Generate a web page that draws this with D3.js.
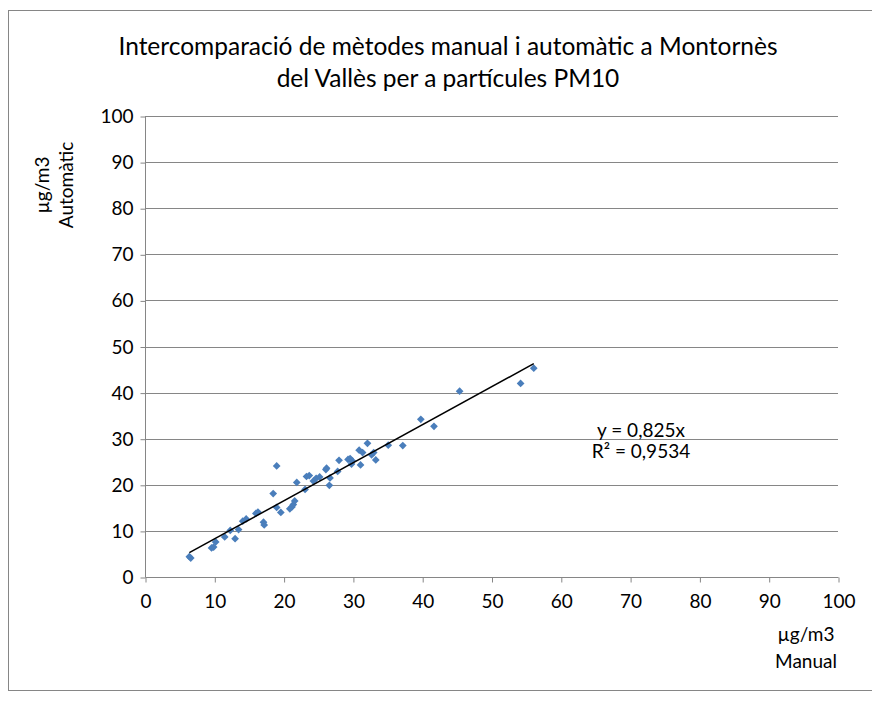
<!DOCTYPE html>
<html>
<head>
<meta charset="utf-8">
<script src="https://cdn.jsdelivr.net/npm/d3@7"></script>
<style>
  html, body { margin: 0; padding: 0; background: #fff; }
  svg { display: block; font-family: Lato, "Open Sans", sans-serif; }
</style>
</head>
<body>
<svg id="chart" width="872" height="704"></svg>
<script>
// Manual (gravimetric) vs automatic PM10 readings, µg/m3
const manual = [6.4, 6.6, 9.6, 9.9, 10.2, 11.5, 12.3, 13.0, 13.5, 14.1, 14.6, 16.0, 16.3,
  17.1, 17.2, 18.5, 19.0, 19.0, 19.6, 20.9, 21.2, 21.4, 21.6, 21.9, 23.1, 23.3, 23.7,
  24.3, 24.7, 25.2, 26.1, 26.2, 26.6, 26.7, 27.8, 28.0, 29.3, 29.6, 29.8, 29.9, 30.9,
  31.1, 31.4, 32.1, 32.7, 33.0, 33.3, 35.1, 37.2, 39.8, 41.7, 45.4, 54.2, 56.1];
const automatic = [4.4, 4.1, 6.3, 6.5, 7.6, 8.7, 10.1, 8.3, 10.3, 12.1, 12.6, 13.8, 14.1,
  11.9, 11.3, 18.1, 24.1, 15.1, 14.0, 14.8, 15.2, 15.7, 16.5, 20.5, 19.0, 21.8, 22.0,
  20.8, 21.4, 21.7, 23.3, 23.6, 19.9, 21.5, 22.9, 25.3, 25.5, 25.7, 24.5, 25.2, 27.5,
  24.3, 27.0, 29.0, 26.5, 27.0, 25.4, 28.6, 28.5, 34.2, 32.7, 40.3, 42.0, 45.3];

const xTicks = [0, 10, 20, 30, 40, 50, 60, 70, 80, 90, 100];
const yTicks = [0, 10, 20, 30, 40, 50, 60, 70, 80, 90, 100];

const titleLines = ["Intercomparació de mètodes manual i automàtic a Montornès",
                    "del Vallès per a partícules PM10"];
const yTitleLines = ["µg/m3", "Automàtic"];
const xTitleLines = ["µg/m3", "Manual"];

const slope = 0.825;
const rSquared = "0,9534";

const svg = d3.select("#chart");
const grid = "#868686";
const textColor = "#000";
const fontFamily = "Lato, 'Open Sans', sans-serif";
const labelSize = 19;
const plot = { left: 145, right: 838, top: 116, bottom: 577 };

const x = d3.scaleLinear().domain([0, 100]).range([plot.left, plot.right]);
const y = d3.scaleLinear().domain([0, 100]).range([plot.bottom, plot.top]);

// chart frame
svg.append("rect")
  .attr("x", 8.5).attr("y", 10.5)
  .attr("width", 872).attr("height", 680)
  .attr("fill", "#fff").attr("stroke", grid).attr("stroke-width", 1);

// title
svg.append("g").selectAll("text").data(titleLines).join("text")
  .attr("x", 448).attr("y", (d, i) => 55 + i * 32)
  .attr("text-anchor", "middle")
  .attr("font-size", 24.5)
  .attr("fill", textColor)
  .text(d => d);

// horizontal gridlines
svg.append("g").selectAll("line").data(yTicks.filter(d => d > 0)).join("line")
  .attr("x1", plot.left).attr("x2", plot.right)
  .attr("y1", d => Math.round(y(d)) + 0.5).attr("y2", d => Math.round(y(d)) + 0.5)
  .attr("stroke", grid).attr("stroke-width", 1);

// y axis
const yAxis = svg.append("g")
  .attr("transform", `translate(${plot.left + 0.5},0.5)`)
  .call(d3.axisLeft(y).tickValues(yTicks).tickSize(5).tickPadding(7).tickFormat(d3.format("d")));
yAxis.select(".domain").attr("stroke", grid).attr("d", `M0,${plot.top}V${plot.bottom}`);
yAxis.selectAll(".tick line").attr("stroke", grid);
yAxis.selectAll(".tick text").attr("font-size", labelSize).attr("fill", textColor)
  .attr("font-family", fontFamily);

// x axis
const xAxis = svg.append("g")
  .attr("transform", `translate(0.5,${plot.bottom + 0.5})`)
  .call(d3.axisBottom(x).tickValues(xTicks).tickSize(5).tickPadding(12).tickFormat(d3.format("d")));
xAxis.select(".domain").attr("stroke", grid).attr("d", `M${plot.left},0H${plot.right}`);
xAxis.selectAll(".tick line").attr("stroke", grid);
xAxis.selectAll(".tick text").attr("font-size", labelSize).attr("fill", textColor)
  .attr("font-family", fontFamily);

// axis titles
const yTitle = svg.append("text")
  .attr("transform", "translate(0,185) rotate(-90)")
  .attr("text-anchor", "middle")
  .attr("font-size", labelSize).attr("fill", textColor);
yTitle.selectAll("tspan").data(yTitleLines).join("tspan")
  .attr("x", 0).attr("y", (d, i) => 49 + i * 24)
  .text(d => d);

svg.append("g").selectAll("text").data(xTitleLines).join("text")
  .attr("x", 806).attr("y", (d, i) => 641 + i * 27)
  .attr("text-anchor", "middle")
  .attr("font-size", labelSize).attr("fill", textColor)
  .text(d => d);

// data points (diamond markers)
const diamond = d3.symbol().type(d3.symbolSquare).size(30);
svg.append("g").selectAll("path").data(manual.map((m, i) => [m, automatic[i]])).join("path")
  .attr("d", diamond)
  .attr("transform", d => `translate(${x(d[0])},${y(d[1])}) rotate(45)`)
  .attr("fill", "#4a7ebb");

// linear trendline through the origin
const xMin = d3.min(manual), xMax = d3.max(manual);
svg.append("line")
  .attr("x1", x(xMin)).attr("y1", y(slope * xMin))
  .attr("x2", x(xMax)).attr("y2", y(slope * xMax))
  .attr("stroke", "#000").attr("stroke-width", 1.5);

// trendline equation
const eqLines = [`y = ${String(slope).replace(".", ",")}x`, `R² = ${rSquared}`];
svg.append("g").selectAll("text").data(eqLines).join("text")
  .attr("x", 641).attr("y", (d, i) => 437 + i * 21)
  .attr("text-anchor", "middle")
  .attr("font-size", labelSize).attr("fill", textColor)
  .text(d => d);
</script>
</body>
</html>
